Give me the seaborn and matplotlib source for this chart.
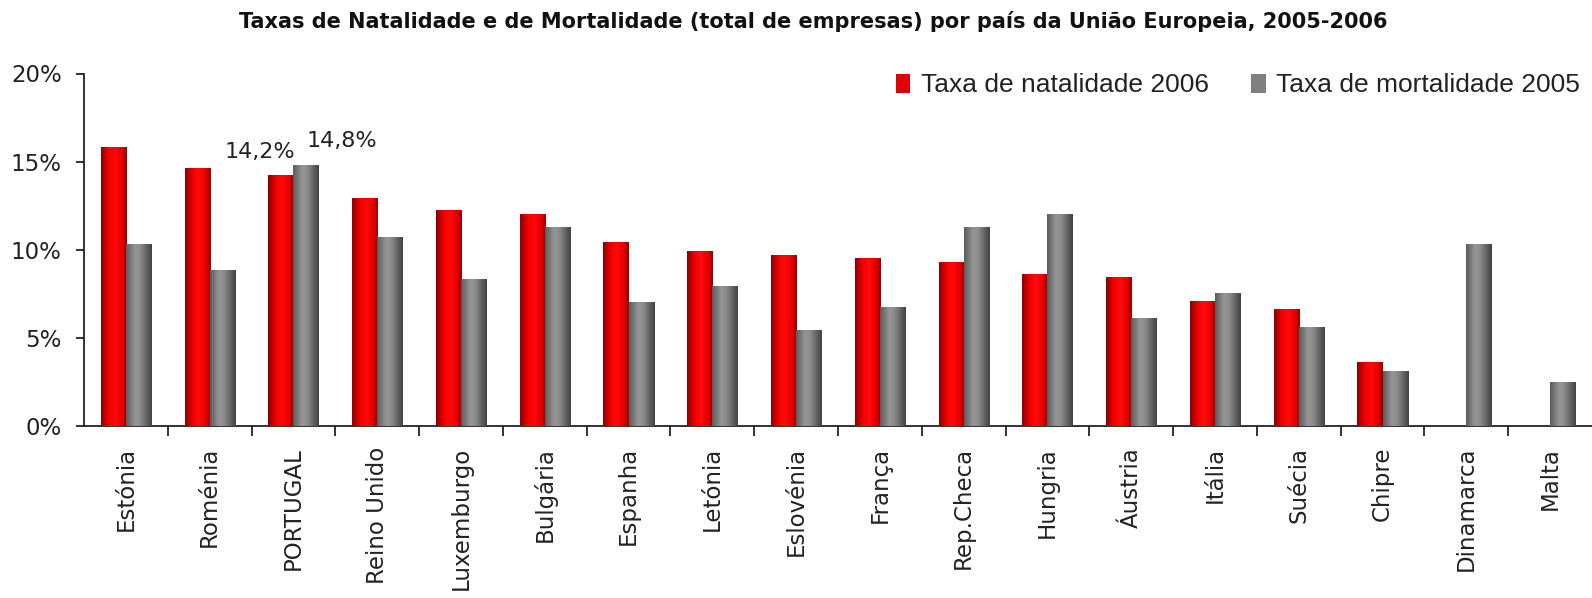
import numpy as np
import pandas as pd
import matplotlib as mpl
import matplotlib.pyplot as plt
import seaborn as sns
from matplotlib.colors import LinearSegmentedColormap
from matplotlib.ticker import FuncFormatter, FixedLocator

paises = ['Estónia', 'Roménia', 'PORTUGAL', 'Reino Unido', 'Luxemburgo', 'Bulgária',
          'Espanha', 'Letónia', 'Eslovénia', 'França', 'Rep.Checa', 'Hungria',
          'Áustria', 'Itália', 'Suécia', 'Chipre', 'Dinamarca', 'Malta']
natalidade_2006 = [15.8, 14.6, 14.2, 12.9, 12.2, 12.0, 10.4, 9.9, 9.7, 9.5, 9.3, 8.6,
                   8.4, 7.05, 6.6, 3.6, np.nan, np.nan]
mortalidade_2005 = [10.3, 8.85, 14.8, 10.7, 8.3, 11.25, 7.0, 7.9, 5.4, 6.75, 11.25, 12.0,
                    6.1, 7.5, 5.6, 3.1, 10.3, 2.45]
series = ['Taxa de natalidade 2006', 'Taxa de mortalidade 2005']
rotulos_pt = ['14,2%', '14,8%']

df = pd.DataFrame({
    'pais': paises * 2,
    'taxa': natalidade_2006 + mortalidade_2005,
    'serie': [series[0]] * len(paises) + [series[1]] * len(paises),
})

sns.set_style('white')
plt.rcParams['font.family'] = ['DejaVu Sans']

fig = plt.figure(figsize=(15.92, 5.98), dpi=100)
ax = fig.add_axes([84 / 1592, 1 - 426 / 598, 1 - 84 / 1592, (426 - 73.5) / 598])

sns.barplot(data=df, x='pais', y='taxa', hue='serie', palette=['#e00000', '#808080'],
            width=0.6, saturation=1, errorbar=None, linewidth=0, ax=ax)

# cylinder-like shading on the bars
cmap_red = LinearSegmentedColormap.from_list('r', [(0, '#8c0000'), (0.3, '#f20000'), (0.55, '#ff0a0a'),
                                                   (0.8, '#e80000'), (1, '#9a0000')])
cmap_grey = LinearSegmentedColormap.from_list('g', [(0, '#5c5c5c'), (0.35, '#969696'), (0.55, '#8c8c8c'),
                                                    (1, '#424242')])
grad = np.linspace(0, 1, 64).reshape(1, -1)
for cont, cm in zip(ax.containers, [cmap_red, cmap_grey]):
    for p in cont:
        h = p.get_height()
        if not np.isfinite(h):
            continue
        x0 = p.get_x()
        ax.imshow(grad, cmap=cm, aspect='auto', extent=[x0, x0 + p.get_width(), 0, h],
                  zorder=3, interpolation='bicubic')

ax.set_xlim(-0.5, len(paises) - 0.5)
ax.set_ylim(0, 20)

# data labels for Portugal
i_pt = paises.index('PORTUGAL')
bar_r = ax.containers[0][i_pt]
bar_g = ax.containers[1][i_pt]
ax.annotate(rotulos_pt[0], (bar_r.get_x() + bar_r.get_width() / 2, bar_r.get_height()),
            xytext=(-15, 13), textcoords='offset points', ha='center', va='baseline',
            fontsize=16, color='#222222', annotation_clip=False)
ax.annotate(rotulos_pt[1], (bar_g.get_x() + bar_g.get_width() / 2, bar_g.get_height()),
            xytext=(26, 13), textcoords='offset points', ha='center', va='baseline',
            fontsize=16, color='#222222', annotation_clip=False)

ax.yaxis.set_major_locator(FixedLocator([0, 5, 10, 15, 20]))
ax.yaxis.set_major_formatter(FuncFormatter(lambda v, _: f'{v:.0f}%'))
ax.tick_params(axis='y', direction='out', length=6, width=1.3, pad=10, labelsize=16.5,
               colors='#222222', left=True)
ax.xaxis.set_minor_locator(FixedLocator(np.arange(0.5, len(paises) - 1, 1)))
ax.tick_params(axis='x', which='major', length=0, pad=15, labelsize=16.5, labelrotation=90,
               colors='#222222')
ax.tick_params(axis='x', which='minor', direction='out', length=7, width=1.3, color='#222222',
               bottom=True)
for lbl in ax.get_xticklabels():
    lbl.set_ha('center')
    lbl.set_va('top')

ax.set_xlabel('')
ax.set_ylabel('')
sns.despine(ax=ax)
for s in ['left', 'bottom']:
    ax.spines[s].set_linewidth(1.3)
    ax.spines[s].set_color('#222222')

sns.move_legend(ax, 'upper right', bbox_to_anchor=(0.992, 1.0), ncol=2, frameon=False,
                title=None, fontsize=19, handlelength=0.55, handleheight=0.75,
                handletextpad=0.4, columnspacing=1.6, borderpad=0, borderaxespad=0)
for t in ax.get_legend().get_texts():
    t.set_fontfamily('Liberation Sans')
    t.set_color('#222222')

fig.text(813 / 1592, 1 - 21 / 598,
         'Taxas de Natalidade e de Mortalidade (total de empresas) por país da União Europeia, 2005-2006',
         ha='center', va='center', fontsize=15, fontweight='bold', color='#111111')

fig.savefig('out.png', dpi=100)
